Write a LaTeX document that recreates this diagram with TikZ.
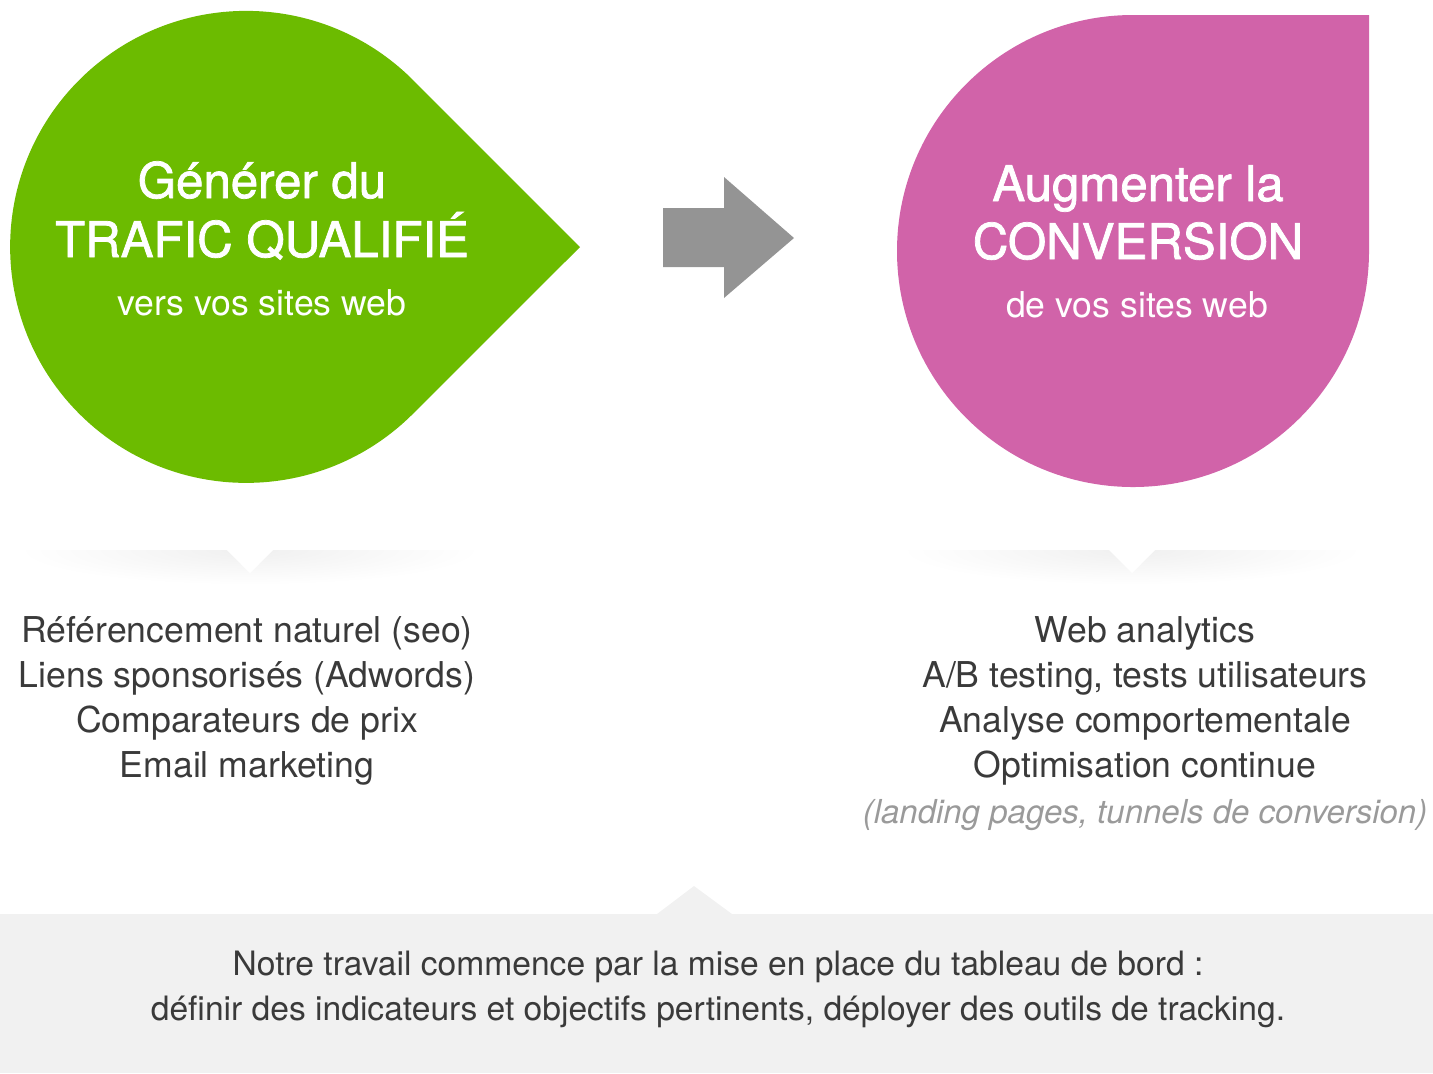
\documentclass[tikz,border=0pt]{standalone}
\usepackage{fontspec}
\setmainfont{TeX Gyre Heros}
\newfontfamily\medfont{TeX Gyre Heros}[FakeBold=1.5]

\definecolor{trafgreen}{HTML}{6CBB00}
\definecolor{convpink}{HTML}{D163A9}
\definecolor{arrowgray}{HTML}{949494}
\definecolor{boxgray}{HTML}{F1F1F1}
\definecolor{txtdark}{HTML}{3A3A3A}
\definecolor{txtlight}{HTML}{9A9A9A}

\begin{document}
\begin{tikzpicture}[x=0.5pt,y=-0.5pt,
    title/.style={text=white,inner sep=0pt,anchor=base,font=\medfont\fontsize{24.6}{28}\selectfont},
    subtitle/.style={text=white,inner sep=0pt,anchor=base,font=\fontsize{17.8}{22}\selectfont},
    item/.style={text=txtdark,inner sep=0pt,anchor=base,font=\fontsize{17.8}{22}\selectfont},
    note/.style={text=txtdark,inner sep=0pt,anchor=base,font=\fontsize{16.8}{22}\selectfont}]
    \useasboundingbox (0,0) rectangle (1433,1073);

    % drop shapes
    \fill[trafgreen] (580,247) -- (413,80)
        arc[start angle=-45,end angle=-315,radius=236] -- cycle;
    \fill[convpink] (1369,15) -- (1369,251)
        arc[start angle=0,end angle=270,radius=236] -- cycle;

    % arrow between them
    \fill[arrowgray] (663,208) -- (724,208) -- (724,177) -- (794,238)
        -- (724,298) -- (724,267) -- (663,267) -- cycle;

    % titles
    \node[title] (gen1) at (262,198) {Générer du};
    \node[title] (gen2) at (262,257) {TRAFIC QUALIFIÉ};
    \node[subtitle] (gen3) at (262,315) {vers vos sites web};
    \node[title] (aug1) at (1138,201) {Augmenter la};
    \node[title] (aug2) at (1138,259) {CONVERSION};
    \node[subtitle] (aug3) at (1137,317) {de vos sites web};

    % soft separators
    \foreach \cx/\nm in {250/sepL,1132/sepR} {
        \begin{scope}
            \clip (\cx-240,550) rectangle (\cx+240,600);
            \foreach \k in {0,...,13}
                \fill[black,opacity=0.0045]
                    (\cx,550) ellipse [x radius=224-15*\k,y radius=34-2.2*\k];
        \end{scope}
        \fill[white] (\cx-24,549) -- (\cx,573) -- (\cx+24,549) -- cycle;
        \coordinate (\nm) at (\cx,573);
    }

    % lists
    \foreach \txt [count=\i] in {{Référencement naturel (seo)},
            {Liens sponsorisés (Adwords)},{Comparateurs de prix},{Email marketing}}
        \node[item] (left\i) at (247,642+45.3*\i-45.3) {\txt};
    \foreach \txt [count=\i] in {{Web analytics},{A/B testing, tests utilisateurs},
            {Analyse comportementale},{Optimisation continue}}
        \node[item] (right\i) at (1145,642+45.3*\i-45.3) {\txt};
    \node[item,text=txtlight,font=\fontsize{16.5}{22}\selectfont\itshape] (right5)
        at (1145,823) {(landing pages, tunnels de conversion)};

    % bottom box
    \fill[boxgray] (0,914) rectangle (1433,1073);
    \fill[boxgray] (657,914) -- (694,886) -- (732,914) -- cycle;
    \node[note] (note1) at (718,975)
        {Notre travail commence par la mise en place du tableau de bord :};
    \node[note] (note2) at (718,1020)
        {définir des indicateurs et objectifs pertinents, déployer des outils de tracking.};
\end{tikzpicture}
\end{document}
